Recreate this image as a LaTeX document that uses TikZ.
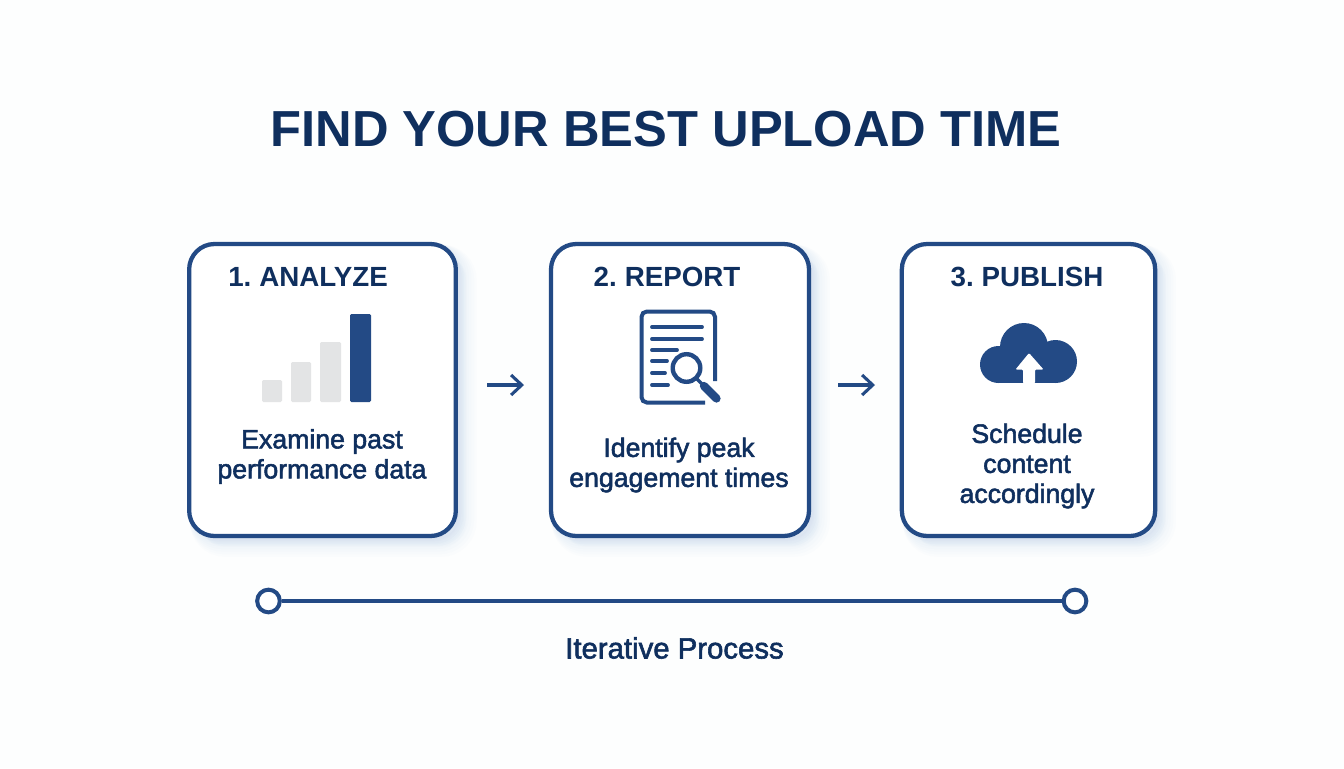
\documentclass[tikz,border=0pt]{standalone}
\usepackage{fontspec}
\setmainfont{Liberation Sans}
\newfontfamily\medfont[FakeBold=2]{Liberation Sans}
\newfontfamily\headfont[WordSpace=0.7]{Liberation Sans}
\usetikzlibrary{arrows.meta,shadows}
\definecolor{navy}{HTML}{0F2F5E}
\definecolor{linecol}{HTML}{234A85}
\definecolor{barlight}{HTML}{E3E4E5}
\definecolor{glow}{HTML}{7F9AD8}
\definecolor{paper}{HTML}{FDFEFE}
\tikzset{
  soft/.style={general shadow={shadow xshift=#1pt, shadow yshift=-#1pt, fill=glow, draw=glow, line width=#1*1.9pt, opacity=.02}},
  card/.style={draw=linecol, line width=3.2pt, rounded corners=19pt, fill=white, minimum height=219pt,
    soft=8, soft=7, soft=6, soft=5, soft=4, soft=3, soft=2, soft=1},
  head/.style={text=navy, font=\fontsize{20.8}{25}\selectfont\headfont\bfseries},
  body/.style={text=navy, align=center, font=\fontsize{20}{22.5}\selectfont\medfont},
  bar/.style={fill=barlight, rounded corners=1pt},
  ink/.style={draw=linecol, line width=#1pt, line cap=round},
  flow/.style={draw=linecol, line width=2.3pt, -{Straight Barb[length=8pt,width=15pt,line width=2.3pt]}},
  dot/.style={circle, draw=linecol, line width=3pt, fill=white, minimum width=17pt, inner sep=0pt}
}
\begin{document}
\begin{tikzpicture}[x=.75pt,y=-.75pt]
  \fill[paper] (0,0) rectangle (1344,768);
  \useasboundingbox (0,0) rectangle (1344,768);

  \node[text=navy, font=\fontsize{38}{46}\selectfont\bfseries] (title) at (666,129) {FIND YOUR BEST UPLOAD TIME};

  \node[card, minimum width=200pt] (box1) at (322.5,390) {};
  \node[card, minimum width=193.5pt] (box2) at (680,390) {};
  \node[card, minimum width=190pt] (box3) at (1028.5,390) {};

  \node[head] (head1) at (308,277) {1. ANALYZE};
  \node[head] (head2) at (667,277) {2. REPORT};
  \node[head] (head3) at (1027,277) {3. PUBLISH};

  \node[body] (text1) at (322,456.5) {Examine past\\performance data};
  \node[body] (text2) at (679,465) {Identify peak\\engagement times};
  \node[body] (text3) at (1027,466) {Schedule\\content\\accordingly};

  \fill[bar] (262,380) rectangle (282,402);
  \fill[bar] (291,362) rectangle (311,402);
  \fill[bar] (320,342) rectangle (341,402);
  \fill[bar, fill=linecol] (350,314) rectangle (371,402);

  \draw[ink=3, line cap=butt, rounded corners=4pt] (715,381) -- (715,311.5) -- (641.5,311.5) -- (641.5,402.5) -- (705,402.5);
  \foreach \y/\xend in {327/702, 339/702, 350/677, 361/667, 373/665, 385/668}
    \draw[ink=2.9] (652,\y) -- (\xend,\y);
  \draw[ink=3.3] (686.5,368) circle (13.8);
  \draw[ink=2.6] (697,379) -- (704,386);
  \draw[ink=6.2] (704,386) -- (716.5,398.5);

  \fill[linecol] (998.5,364.5) circle (18.5);
  \fill[linecol] (1024,347) circle (24);
  \fill[linecol] (1055.5,361.5) circle (21.5);
  \fill[linecol] (998.5,352) rectangle (1055.5,383);
  \fill[white, rounded corners=.8pt] (1029,353) -- (1043.5,369.5) -- (1035,369.5) -- (1035,383.5) -- (1023,383.5) -- (1023,369.5) -- (1015.5,369.5) -- cycle;

  \coordinate (a1) at (487,385);
  \coordinate (b1) at (524,385);
  \coordinate (a2) at (838,385);
  \coordinate (b2) at (875,385);
  \foreach \from/\to in {a1/b1, a2/b2}
    \draw[flow] (\from) -- (\to);

  \node[dot] (start) at (268.5,601) {};
  \node[dot] (end) at (1075,601) {};
  \draw[draw=linecol, line width=3pt] (start) -- (end);
  \node[body, font=\fontsize{22}{26}\selectfont\medfont] (loop) at (674.5,648) {Iterative Process};
\end{tikzpicture}
\end{document}
